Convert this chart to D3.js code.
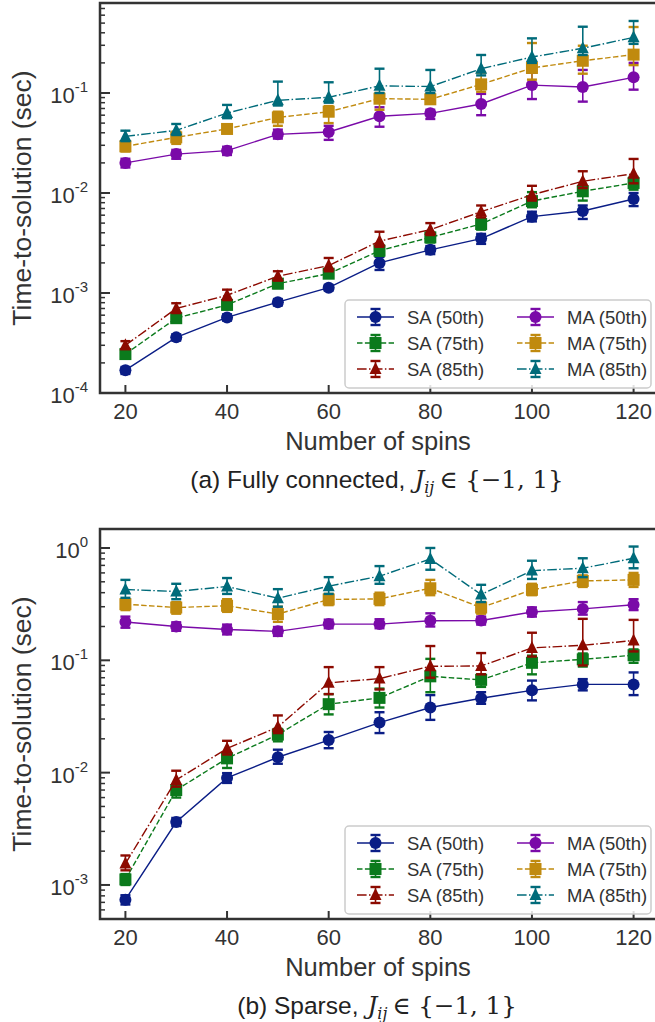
<!DOCTYPE html>
<html><head><meta charset="utf-8">
<script src="https://cdn.jsdelivr.net/npm/d3@7"></script>
<style>html,body{margin:0;padding:0;background:#fff}</style>
</head><body><svg id="fig" width="655" height="1022"></svg>
<script>
// Number of spins on the x axis
const spins = [20, 30, 40, 50, 60, 70, 80, 90, 100, 110, 120];
const xTicks = [20, 40, 60, 80, 100, 120];
const seriesNames = ["SA (50th)", "SA (75th)", "SA (85th)", "MA (50th)", "MA (75th)", "MA (85th)"];

// (a) fully connected: time-to-solution (sec), value / low / high
const fcSA50   = [1.69e-4, 3.6e-4, 5.7e-4, 8.1e-4, 1.13e-3, 2.0e-3, 2.7e-3, 3.5e-3, 5.8e-3, 6.6e-3, 8.7e-3];
const fcSA50lo = [1.55e-4, 3.35e-4, 5.3e-4, 7.5e-4, 1.06e-3, 1.7e-3, 2.45e-3, 3.1e-3, 5.2e-3, 5.5e-3, 7.4e-3];
const fcSA50hi = [1.82e-4, 3.85e-4, 6.1e-4, 8.7e-4, 1.2e-3, 2.3e-3, 2.95e-3, 3.9e-3, 6.5e-3, 7.5e-3, 1.0e-2];
const fcSA75   = [2.45e-4, 5.6e-4, 7.6e-4, 1.24e-3, 1.56e-3, 2.65e-3, 3.6e-3, 4.9e-3, 8.3e-3, 1.04e-2, 1.26e-2];
const fcSA75lo = [2.25e-4, 5.1e-4, 6.9e-4, 1.12e-3, 1.42e-3, 2.35e-3, 3.2e-3, 4.3e-3, 7.2e-3, 8.4e-3, 1.08e-2];
const fcSA75hi = [2.65e-4, 6.1e-4, 8.4e-4, 1.36e-3, 1.72e-3, 3.0e-3, 4.0e-3, 5.5e-3, 1.02e-2, 1.17e-2, 1.45e-2];
const fcSA85   = [3.0e-4, 7.0e-4, 9.5e-4, 1.47e-3, 1.88e-3, 3.3e-3, 4.3e-3, 6.5e-3, 9.6e-3, 1.31e-2, 1.56e-2];
const fcSA85lo = [2.75e-4, 6.3e-4, 8.5e-4, 1.33e-3, 1.65e-3, 2.9e-3, 3.8e-3, 5.7e-3, 8.4e-3, 1.12e-2, 1.25e-2];
const fcSA85hi = [3.3e-4, 7.9e-4, 1.08e-3, 1.65e-3, 2.24e-3, 4.1e-3, 5.0e-3, 7.5e-3, 1.18e-2, 1.65e-2, 2.19e-2];
const fcMA50   = [0.0200, 0.0245, 0.0265, 0.0386, 0.0407, 0.0585, 0.0626, 0.0776, 0.120, 0.115, 0.1435];
const fcMA50lo = [0.018, 0.022, 0.024, 0.035, 0.034, 0.046, 0.055, 0.060, 0.087, 0.082, 0.108];
const fcMA50hi = [0.022, 0.027, 0.029, 0.043, 0.047, 0.072, 0.068, 0.098, 0.16, 0.17, 0.20];
const fcMA75   = [0.0293, 0.036, 0.0437, 0.057, 0.065, 0.0877, 0.0865, 0.122, 0.178, 0.21, 0.242];
const fcMA75lo = [0.026, 0.031, 0.040, 0.047, 0.050, 0.068, 0.078, 0.103, 0.136, 0.156, 0.19];
const fcMA75hi = [0.033, 0.041, 0.048, 0.065, 0.074, 0.100, 0.098, 0.16, 0.316, 0.297, 0.457];
const fcMA85   = [0.0368, 0.0423, 0.063, 0.0845, 0.0905, 0.118, 0.116, 0.175, 0.229, 0.28, 0.36];
const fcMA85lo = [0.033, 0.038, 0.056, 0.075, 0.08, 0.10, 0.10, 0.15, 0.20, 0.24, 0.31];
const fcMA85hi = [0.042, 0.049, 0.076, 0.13, 0.128, 0.175, 0.17, 0.24, 0.352, 0.46, 0.525];

// (b) sparse: time-to-solution (sec), value / low / high
const spSA50   = [7.4e-4, 3.63e-3, 8.97e-3, 1.37e-2, 1.95e-2, 2.79e-2, 3.8e-2, 4.6e-2, 5.4e-2, 6.1e-2, 6.1e-2];
const spSA50lo = [6.7e-4, 3.35e-3, 8.1e-3, 1.2e-2, 1.65e-2, 2.25e-2, 2.95e-2, 4.1e-2, 4.4e-2, 5.4e-2, 4.9e-2];
const spSA50hi = [8.1e-4, 3.95e-3, 9.9e-3, 1.6e-2, 2.3e-2, 3.45e-2, 4.9e-2, 5.2e-2, 6.6e-2, 6.8e-2, 7.8e-2];
const spSA75   = [1.12e-3, 7.0e-3, 1.34e-2, 2.18e-2, 4.07e-2, 4.63e-2, 7.2e-2, 6.7e-2, 9.5e-2, 1.02e-1, 1.11e-1];
const spSA75lo = [1.0e-3, 6.0e-3, 1.1e-2, 1.9e-2, 3.3e-2, 3.8e-2, 5.2e-2, 5.8e-2, 7.5e-2, 8.8e-2, 9.5e-2];
const spSA75hi = [1.25e-3, 7.8e-3, 1.5e-2, 2.45e-2, 5.0e-2, 5.6e-2, 1.03e-1, 7.5e-2, 1.1e-1, 1.15e-1, 1.25e-1];
const spSA85   = [1.55e-3, 8.6e-3, 1.64e-2, 2.55e-2, 6.3e-2, 6.87e-2, 8.85e-2, 8.9e-2, 1.29e-1, 1.36e-1, 1.5e-1];
const spSA85lo = [1.35e-3, 7.5e-3, 1.45e-2, 2.25e-2, 5.0e-2, 5.5e-2, 7.0e-2, 7.5e-2, 1.08e-1, 9.0e-2, 1.2e-1];
const spSA85hi = [1.83e-3, 1.04e-2, 1.92e-2, 3.23e-2, 8.7e-2, 8.7e-2, 1.34e-1, 1.16e-1, 1.76e-1, 2.34e-1, 2.29e-1];
const spMA50   = [0.219, 0.200, 0.188, 0.181, 0.210, 0.210, 0.225, 0.226, 0.269, 0.287, 0.312];
const spMA50lo = [0.195, 0.183, 0.170, 0.165, 0.193, 0.193, 0.200, 0.208, 0.245, 0.255, 0.280];
const spMA50hi = [0.245, 0.218, 0.208, 0.198, 0.230, 0.232, 0.262, 0.245, 0.296, 0.330, 0.350];
const spMA75   = [0.316, 0.295, 0.306, 0.258, 0.348, 0.352, 0.438, 0.295, 0.424, 0.509, 0.52];
const spMA75lo = [0.28, 0.26, 0.27, 0.22, 0.31, 0.31, 0.38, 0.26, 0.38, 0.45, 0.45];
const spMA75hi = [0.35, 0.33, 0.35, 0.30, 0.39, 0.40, 0.52, 0.33, 0.48, 0.57, 0.60];
const spMA85   = [0.427, 0.41, 0.454, 0.357, 0.457, 0.561, 0.798, 0.385, 0.629, 0.66, 0.81];
const spMA85lo = [0.36, 0.35, 0.39, 0.30, 0.39, 0.48, 0.64, 0.33, 0.53, 0.55, 0.66];
const spMA85hi = [0.52, 0.48, 0.54, 0.43, 0.55, 0.69, 1.0, 0.47, 0.77, 0.81, 1.03];

// Line/marker styling per series
const styles = [
  {color: "#0a1d86", dash: null,            marker: "circle"},
  {color: "#0b7a1c", dash: "5.5,2.4",       marker: "square"},
  {color: "#8c0a00", dash: "9.6,2.4,1.5,2.4", marker: "triangle"},
  {color: "#7a0aa8", dash: null,            marker: "circle"},
  {color: "#c08a0e", dash: "5.5,2.4",       marker: "square"},
  {color: "#006b7a", dash: "9.6,2.4,1.5,2.4", marker: "triangle"}
];

const SANS = "'Liberation Sans', Arial, Helvetica, sans-serif";
const SERIF = "'DejaVu Serif', 'Liberation Serif', serif";
const AXIS = "#333333";

const svg = d3.select("#fig");
svg.append("rect").attr("width", 655).attr("height", 1022).attr("fill", "#fff");

function drawMarker(g, kind, cx, cy, color) {
  const s = 12;
  if (kind === "circle") {
    g.append("circle").attr("cx", cx).attr("cy", cy).attr("r", s / 2).attr("fill", color);
  } else if (kind === "square") {
    g.append("rect").attr("x", cx - s / 2).attr("y", cy - s / 2).attr("width", s).attr("height", s).attr("fill", color);
  } else {
    const h = s / 2;
    g.append("path").attr("d", `M${cx},${cy - h - 1}L${cx - h},${cy + h - 1}L${cx + h},${cy + h - 1}Z`).attr("fill", color);
  }
}

function drawPanel(cfg) {
  const g = svg.append("g");
  const x = d3.scaleLinear().domain([15, 125]).range([100, 659]);
  const y = d3.scaleLog().domain(cfg.yDomain).range([cfg.bottom, cfg.top]);

  // series: lines, error bars, markers
  cfg.series.forEach((s, i) => {
    const st = styles[i];
    const sg = g.append("g");
    const line = d3.line().x((d, j) => x(spins[j])).y(d => y(d));
    sg.append("path").attr("d", line(s.v)).attr("fill", "none")
      .attr("stroke", st.color).attr("stroke-width", 1.4)
      .attr("stroke-dasharray", st.dash);
    s.v.forEach((v, j) => {
      const cx = x(spins[j]);
      const y0 = y(s.lo[j]), y1 = y(s.hi[j]);
      sg.append("line").attr("x1", cx).attr("x2", cx).attr("y1", y0).attr("y2", y1)
        .attr("stroke", st.color).attr("stroke-width", 1.6);
      [y0, y1].forEach(yy => sg.append("line").attr("x1", cx - 5).attr("x2", cx + 5)
        .attr("y1", yy).attr("y2", yy).attr("stroke", st.color).attr("stroke-width", 2.4));
      drawMarker(sg, st.marker, cx, y(v), st.color);
    });
  });

  // frame
  g.append("rect").attr("x", 100).attr("y", cfg.top).attr("width", 600).attr("height", cfg.bottom - cfg.top)
    .attr("fill", "none").attr("stroke", AXIS).attr("stroke-width", 2.5);

  // x ticks (inward) and labels
  const xAxis = g.append("g");
  xTicks.forEach(t => {
    xAxis.append("line").attr("x1", x(t)).attr("x2", x(t)).attr("y1", cfg.bottom).attr("y2", cfg.bottom - 8)
      .attr("stroke", AXIS).attr("stroke-width", 2);
    xAxis.append("text").attr("x", x(t)).attr("y", cfg.bottom + 26).attr("text-anchor", "middle")
      .attr("font-family", SANS).attr("font-size", 22).attr("fill", "#333").text(t);
  });

  // y ticks: decades and minor 2..9
  const [lo, hi] = cfg.yDomain;
  for (let d = Math.floor(Math.log10(lo)); d <= Math.ceil(Math.log10(hi)); d++) {
    for (let k = 1; k <= 9; k++) {
      const v = k * Math.pow(10, d);
      if (v < lo * 0.999 || v > hi) continue;
      const yy = y(v);
      g.append("line").attr("x1", 100).attr("x2", k === 1 ? 110 : 105).attr("y1", yy).attr("y2", yy)
        .attr("stroke", AXIS).attr("stroke-width", k === 1 ? 2 : 1.5);
      if (k === 1) {
        const tx = g.append("text").attr("x", 88).attr("y", yy + 10).attr("text-anchor", "end")
          .attr("font-family", SANS).attr("font-size", 22).attr("fill", "#333");
        tx.append("tspan").text("10");
        tx.append("tspan").attr("dy", -11).attr("font-size", 15).text(d < 0 ? "-" + (-d) : String(d));
      }
    }
  }

  // axis titles
  g.append("text").attr("x", 378).attr("y", cfg.bottom + 57).attr("text-anchor", "middle")
    .attr("font-family", SANS).attr("font-size", 25.5).attr("fill", "#333").text("Number of spins");
  g.append("text").attr("transform", `translate(31,${(cfg.top + cfg.bottom) / 2}) rotate(-90)`)
    .attr("text-anchor", "middle").attr("font-family", SANS).attr("font-size", 26.5).attr("fill", "#333")
    .text("Time-to-solution (sec)");

  // caption with the coupling set
  const cap = g.append("text").attr("x", 377).attr("y", cfg.bottom + 95).attr("text-anchor", "middle")
    .attr("font-family", SANS).attr("font-size", 24.5).attr("fill", "#222");
  cap.append("tspan").text(cfg.caption);
  cap.append("tspan").attr("font-family", SERIF).attr("font-style", "italic").attr("dx", 9).text("J");
  cap.append("tspan").attr("font-family", SERIF).attr("font-style", "italic").attr("font-size", 16).attr("dy", 5).text("ij");
  cap.append("tspan").attr("font-family", SERIF).attr("dy", -5).attr("dx", 5).text("\u2208 {\u22121, 1}");

  // legend
  const lg = g.append("g");
  const lx = 345, ly = cfg.top + 297;
  lg.append("rect").attr("x", lx).attr("y", ly).attr("width", 306).attr("height", 88).attr("rx", 4)
    .attr("fill", "#fff").attr("fill-opacity", 0.85).attr("stroke", "#cccccc").attr("stroke-width", 1.5);
  seriesNames.forEach((name, i) => {
    const st = styles[i];
    const col = Math.floor(i / 3), row = i % 3;
    const hx = lx + 12 + col * 160, hy = ly + 17 + row * 26;
    lg.append("line").attr("x1", hx).attr("x2", hx + 37).attr("y1", hy).attr("y2", hy)
      .attr("stroke", st.color).attr("stroke-width", 1.4).attr("stroke-dasharray", st.dash);
    const mx = hx + 18.5;
    lg.append("line").attr("x1", mx).attr("x2", mx).attr("y1", hy - 8).attr("y2", hy + 8)
      .attr("stroke", st.color).attr("stroke-width", 1.6);
    [hy - 8, hy + 8].forEach(yy => lg.append("line").attr("x1", mx - 5).attr("x2", mx + 5)
      .attr("y1", yy).attr("y2", yy).attr("stroke", st.color).attr("stroke-width", 2.4));
    drawMarker(lg, st.marker, mx, hy, st.color);
    lg.append("text").attr("x", hx + 50).attr("y", hy + 6.5).attr("font-family", SANS)
      .attr("font-size", 18.5).attr("fill", "#333").text(name);
  });
}

drawPanel({
  top: 3, bottom: 393, yDomain: [1e-4, Math.pow(10, -0.1)],
  caption: "(a) Fully connected,",
  series: [
    {v: fcSA50, lo: fcSA50lo, hi: fcSA50hi},
    {v: fcSA75, lo: fcSA75lo, hi: fcSA75hi},
    {v: fcSA85, lo: fcSA85lo, hi: fcSA85hi},
    {v: fcMA50, lo: fcMA50lo, hi: fcMA50hi},
    {v: fcMA75, lo: fcMA75lo, hi: fcMA75hi},
    {v: fcMA85, lo: fcMA85lo, hi: fcMA85hi}
  ]
});

drawPanel({
  top: 529, bottom: 919, yDomain: [Math.pow(10, -3.303), Math.pow(10, 0.169)],
  caption: "(b) Sparse,",
  series: [
    {v: spSA50, lo: spSA50lo, hi: spSA50hi},
    {v: spSA75, lo: spSA75lo, hi: spSA75hi},
    {v: spSA85, lo: spSA85lo, hi: spSA85hi},
    {v: spMA50, lo: spMA50lo, hi: spMA50hi},
    {v: spMA75, lo: spMA75lo, hi: spMA75hi},
    {v: spMA85, lo: spMA85lo, hi: spMA85hi}
  ]
});
</script>
</body></html>
